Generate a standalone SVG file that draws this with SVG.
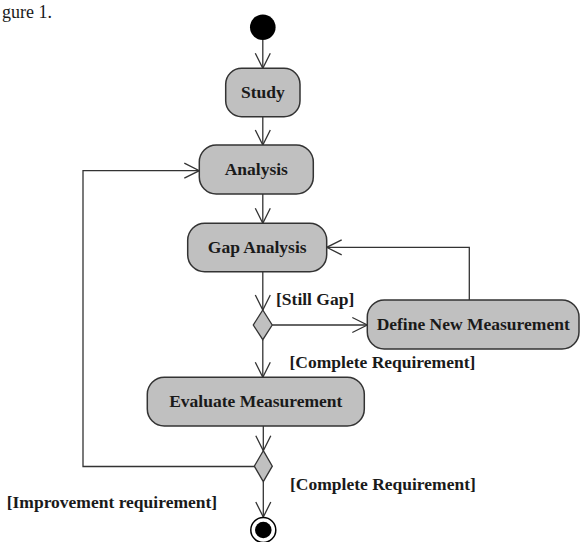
<svg xmlns="http://www.w3.org/2000/svg" width="582" height="542" viewBox="0 0 582 542">
<defs>
<style>
.act{fill:#c0c0c0;stroke:#333;stroke-width:1.5}
.dec{fill:#c0c0c0;stroke:#333;stroke-width:1.3}
.lbl{font-family:"Liberation Serif","Times New Roman",serif;font-weight:bold;font-size:17.5px;fill:#1a1a1a}
.mid{text-anchor:middle}
.edge{fill:none;stroke:#333;stroke-width:1.3}
</style>
<marker id="arr" viewBox="-17 -9 19 18" markerWidth="19" markerHeight="18" refX="0" refY="0" orient="auto" markerUnits="userSpaceOnUse" overflow="visible">
<path d="M-15,-7.5 L0,0 L-15,7.5" fill="none" stroke="#333" stroke-width="1.3"/>
</marker>
</defs>
<rect width="582" height="542" fill="#ffffff"/>
<text x="2" y="18" style="font-family:'Liberation Serif','Times New Roman',serif;font-size:18px;fill:#1a1a1a">gure 1.</text>

<g id="connectors">
<path class="edge" d="M262.8,40 V68.3" marker-end="url(#arr)"/>
<path class="edge" d="M262.8,116.7 V145" marker-end="url(#arr)"/>
<path class="edge" d="M262.8,194 V223.3" marker-end="url(#arr)"/>
<path class="edge" d="M262.8,271.7 V310" marker-end="url(#arr)"/>
<path class="edge" d="M272.2,325 H367.3" marker-end="url(#arr)"/>
<path class="edge" d="M469.3,300 V247.3 H326.7" marker-end="url(#arr)"/>
<path class="edge" d="M262.8,339.7 V377.3" marker-end="url(#arr)"/>
<path class="edge" d="M263.3,426 V450.7" marker-end="url(#arr)"/>
<path class="edge" d="M254.3,466.5 H83 V170.7 H199.3" marker-end="url(#arr)"/>
<path class="edge" d="M263.3,481.7 V517" marker-end="url(#arr)"/>
</g>

<g id="start"><circle cx="262.8" cy="27.2" r="12.8" fill="#000"/></g>

<g id="study">
<rect class="act" x="225.7" y="68.3" width="74.3" height="48.4" rx="16"/>
<text class="lbl mid" x="262.8" y="98">Study</text>
</g>

<g id="analysis">
<rect class="act" x="199.3" y="145" width="114" height="49" rx="17"/>
<text class="lbl mid" x="256.3" y="175">Analysis</text>
</g>

<g id="gap-analysis">
<rect class="act" x="187.7" y="223.3" width="139" height="48.4" rx="17"/>
<text class="lbl mid" x="257.2" y="253">Gap Analysis</text>
</g>

<g id="decision1">
<polygon class="dec" points="262.8,310 272.2,325 262.8,339.7 253.3,325"/>
</g>

<g id="define-new-measurement">
<rect class="act" x="367.3" y="300" width="211.7" height="49" rx="17"/>
<text class="lbl mid" x="473.2" y="330">Define New Measurement</text>
</g>

<g id="evaluate-measurement">
<rect class="act" x="147.3" y="377.3" width="217" height="48.7" rx="17"/>
<text class="lbl mid" x="255.8" y="407">Evaluate Measurement</text>
</g>

<g id="decision2">
<polygon class="dec" points="263.3,450.7 272.3,466.2 263.3,481.7 254.3,466.2"/>
</g>

<g id="end">
<circle cx="263.3" cy="530" r="12.5" fill="#fff" stroke="#000" stroke-width="1.5"/>
<circle cx="263.3" cy="530" r="8.3" fill="#000"/>
</g>

<g id="labels">
<text class="lbl" x="276" y="305">[Still Gap]</text>
<text class="lbl" x="289.5" y="367.5">[Complete Requirement]</text>
<text class="lbl" x="290" y="489.5">[Complete Requirement]</text>
<text class="lbl" x="6.7" y="508">[Improvement requirement]</text>
</g>
</svg>
